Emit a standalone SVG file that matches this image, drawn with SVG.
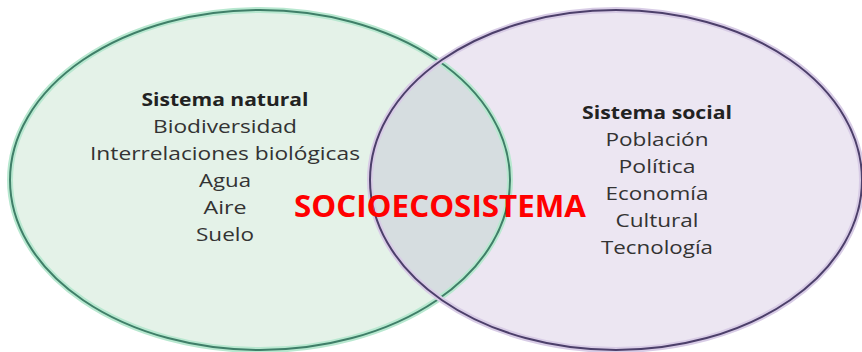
<svg xmlns="http://www.w3.org/2000/svg" width="862" height="352" viewBox="0 0 862 352">
<style>
.t{font-family:"Open Sans","Liberation Sans",sans-serif;font-size:18px;fill:#333;text-anchor:middle}
.h{font-weight:bold;fill:#222}
.big{font-family:"Open Sans","Liberation Sans",sans-serif;font-weight:bold;font-size:31px;fill:#ff0000;text-anchor:middle}
</style>
<defs>
<clipPath id="cl"><ellipse cx="260" cy="180" rx="250" ry="170"/></clipPath>
</defs>
<rect width="862" height="352" fill="#ffffff"/>
<g id="natural">
<ellipse cx="260" cy="180" rx="250" ry="170" fill="#e4f2e8"/>
</g>
<g id="social">
<ellipse cx="616" cy="180" rx="246" ry="170" fill="#ece6f2"/>
</g>
<g id="overlap">
<ellipse cx="616" cy="180" rx="246" ry="170" fill="#d6dde0" clip-path="url(#cl)"/>
</g>
<g id="outlines" fill="none">
<ellipse cx="260" cy="180" rx="250" ry="170" stroke="#b8e8d0" stroke-width="6"/>
<ellipse cx="260" cy="180" rx="250" ry="170" stroke="#3f7f68" stroke-width="2"/>
<ellipse cx="616" cy="180" rx="246" ry="170" stroke="#d8cce6" stroke-width="6"/>
<ellipse cx="616" cy="180" rx="246" ry="170" stroke="#4c3f6a" stroke-width="2"/>
</g>
<g id="natural-text">
<text class="t h" x="225" y="106" textLength="167" lengthAdjust="spacingAndGlyphs">Sistema natural</text>
<text class="t" x="225" y="133" textLength="144" lengthAdjust="spacingAndGlyphs">Biodiversidad</text>
<text class="t" x="225" y="160" textLength="270" lengthAdjust="spacingAndGlyphs">Interrelaciones biológicas</text>
<text class="t" x="225" y="187" textLength="52" lengthAdjust="spacingAndGlyphs">Agua</text>
<text class="t" x="225" y="214" textLength="43" lengthAdjust="spacingAndGlyphs">Aire</text>
<text class="t" x="225" y="241" textLength="58" lengthAdjust="spacingAndGlyphs">Suelo</text>
</g>
<g id="social-text">
<text class="t h" x="657" y="119" textLength="150" lengthAdjust="spacingAndGlyphs">Sistema social</text>
<text class="t" x="657" y="146" textLength="103" lengthAdjust="spacingAndGlyphs">Población</text>
<text class="t" x="657" y="173" textLength="77" lengthAdjust="spacingAndGlyphs">Política</text>
<text class="t" x="657" y="200" textLength="103" lengthAdjust="spacingAndGlyphs">Economía</text>
<text class="t" x="657" y="227" textLength="83" lengthAdjust="spacingAndGlyphs">Cultural</text>
<text class="t" x="657" y="254" textLength="112" lengthAdjust="spacingAndGlyphs">Tecnología</text>
</g>
<g id="label">
<text class="big" x="440" y="217" textLength="292" lengthAdjust="spacingAndGlyphs">SOCIOECOSISTEMA</text>
</g>
</svg>
